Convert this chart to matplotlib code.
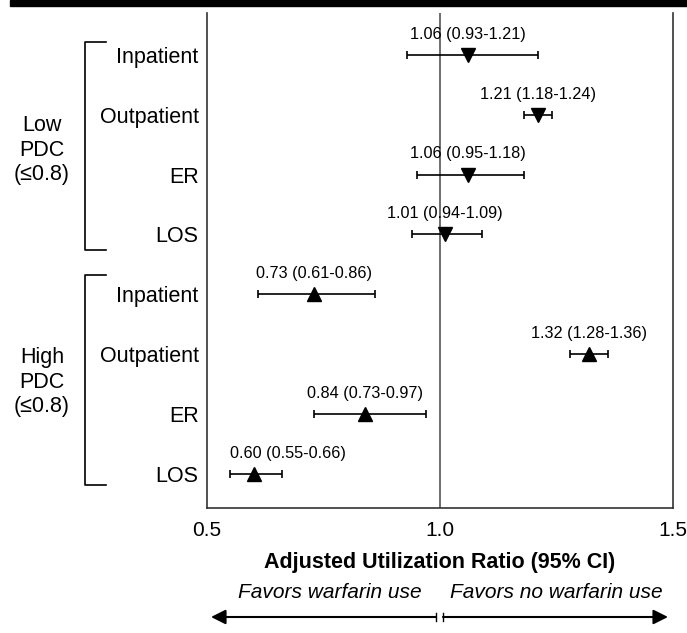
import matplotlib.pyplot as plt
from matplotlib.patches import Rectangle

plt.rcParams['font.family'] = ['Liberation Sans', 'DejaVu Sans']

# data
categories = ["Inpatient", "Outpatient", "ER", "LOS"]
groups = ["Low\nPDC\n(\u22640.8)", "High\nPDC\n(\u22640.8)"]
low_est = [1.06, 1.21, 1.06, 1.01]
low_lo = [0.93, 1.18, 0.95, 0.94]
low_hi = [1.21, 1.24, 1.18, 1.09]
high_est = [0.73, 1.32, 0.84, 0.60]
high_lo = [0.61, 1.28, 0.73, 0.55]
high_hi = [0.86, 1.36, 0.97, 0.66]
xticks = [0.5, 1.0, 1.5]
xticklabels = ["0.5", "1.0", "1.5"]

fig = plt.figure(figsize=(6.87, 6.33), dpi=100)
ax = fig.add_axes([207 / 687, 1 - 508 / 633, 466 / 687, 495 / 633])

# top black bar
fig.patches.append(Rectangle((10 / 687, 1 - 6 / 633), 1, 6 / 633,
                             transform=fig.transFigure, color='black'))

series = [(low_est, low_lo, low_hi, 'v'), (high_est, high_lo, high_hi, '^')]
ypos = 1
for est, lo, hi, mk in series:
    for i in range(len(est)):
        ax.errorbar(est[i], ypos, xerr=[[est[i] - lo[i]], [hi[i] - est[i]]],
                    fmt=mk, color='black', markersize=10.5, capsize=3,
                    elinewidth=1.2, capthick=1.2)
        label = "%.2f (%.2f-%.2f)" % (est[i], lo[i], hi[i])
        # keep the label inside the axes when centering would overflow
        if est[i] - 0.13 < 0.5:
            ax.text(lo[i], ypos - 0.22, label, ha='left', va='bottom',
                    fontsize=11.7)
        else:
            ax.text(est[i], ypos - 0.22, label, ha='center', va='bottom',
                    fontsize=11.7)
        ypos += 1

ax.axvline(1.0, color='#555555', linewidth=1.2, zorder=0)

ax.set_xlim(0.5, 1.5)
ax.set_ylim(8.57, 0.3)
ax.set_xticks(xticks)
ax.set_xticklabels(xticklabels, fontsize=15)
ax.tick_params(axis='x', length=0, pad=9)
ax.set_yticks(range(1, 9))
ax.set_yticklabels(categories * 2, fontsize=15.5)
ax.tick_params(axis='y', length=0, pad=6)
ax.spines['top'].set_visible(False)
for s in ['left', 'right', 'bottom']:
    ax.spines[s].set_color('#333333')
    ax.spines[s].set_linewidth(1.2)

ax.set_xlabel("Adjusted Utilization Ratio (95% CI)", fontsize=15.5,
              fontweight='bold', labelpad=9)

# group brackets and labels (figure pixel coords)
def px(x, y):
    return x / 687, 1 - y / 633

for (top, bot), label, ymid in [((42, 250), groups[0], 150),
                                ((275, 485), groups[1], 382)]:
    xs = [px(106, top)[0], px(85, top)[0], px(85, bot)[0], px(106, bot)[0]]
    ys = [px(0, top)[1], px(0, top)[1], px(0, bot)[1], px(0, bot)[1]]
    fig.add_artist(plt.Line2D(xs, ys, color='black', linewidth=1.2))
    fig.text(*px(42, ymid), label, ha='center', va='center', fontsize=15.5,
             linespacing=1.2)

# favors annotations
fig.text(*px(330, 593), "Favors warfarin use", ha='center', va='center',
         fontsize=15, style='italic')
fig.text(*px(556, 593), "Favors no warfarin use", ha='center', va='center',
         fontsize=15, style='italic')
fig.add_artist(plt.Line2D([px(436, 0)[0]] * 2, [px(0, 613)[1], px(0, 621)[1]],
                          color='black', linewidth=1))
fig.add_artist(plt.Line2D([px(443, 0)[0]] * 2, [px(0, 613)[1], px(0, 621)[1]],
                          color='black', linewidth=1))
ax.annotate("", xy=px(211, 617), xytext=px(436, 617), xycoords='figure fraction',
            arrowprops=dict(arrowstyle='-|>', color='black', lw=1.5,
                            mutation_scale=22, shrinkA=0, shrinkB=0))
ax.annotate("", xy=px(668, 617), xytext=px(443, 617), xycoords='figure fraction',
            arrowprops=dict(arrowstyle='-|>', color='black', lw=1.5,
                            mutation_scale=22, shrinkA=0, shrinkB=0))

plt.savefig("out.png", dpi=100)
